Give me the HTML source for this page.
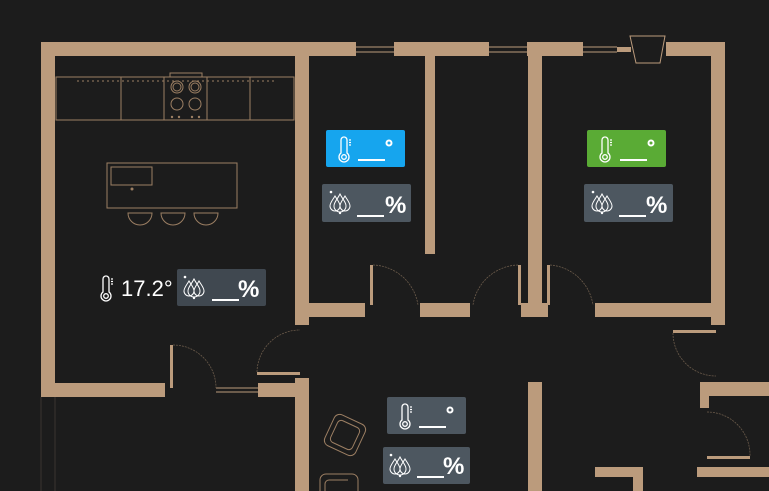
<!DOCTYPE html>
<html><head><meta charset="utf-8"><style>
html,body{margin:0;padding:0;background:#1c1c1c;width:769px;height:491px;overflow:hidden}
svg{display:block}
text{font-family:"Liberation Sans",sans-serif;fill:#fff}
</style></head><body>
<svg width="769" height="491" viewBox="0 0 769 491" xmlns="http://www.w3.org/2000/svg">
<defs>
<symbol id="th" viewBox="0 0 14 26" overflow="visible">
<g fill="none" stroke="#fff" stroke-width="1.3">
<path d="M4 16 V3 a3 3 0 0 1 6 0 V16 a5 5 0 1 1 -6 0 Z"/>
<circle cx="7" cy="20" r="2.3"/>
<path d="M12 3h2M12 5.5h2M12 8h2"/>
</g></symbol>
<symbol id="hu" viewBox="0 0 26 24" overflow="visible">
<g fill="none" stroke="#fff" stroke-width="1">
<path d="M7 6 C4 11 2 13 2 16 a5 5 0 0 0 10 0 C12 13 10 11 7 6Z"/>
<path d="M12 4 C9 10 6 12 6 16 a6 6 0 0 0 12 0 C18 12 15 10 12 4Z"/>
<path d="M17 6 C14 11 12 13 12 16 a5 5 0 0 0 10 0 C22 13 20 11 17 6Z"/>
</g>
<circle cx="3" cy="2" r="1.3" fill="#fff"/><circle cx="12" cy="23" r="1.2" fill="#fff"/>
</symbol>
</defs>
<g fill="#bb9b7c">
<!-- top-left kitchen -->
<rect x="41" y="42" width="315" height="14"/>
<rect x="41" y="42" width="14" height="355"/>
<rect x="41" y="383" width="124" height="14"/>
<rect x="295" y="42" width="14" height="283"/>
<rect x="295" y="303" width="70" height="14"/>
<rect x="394" y="42" width="95" height="14"/>
<rect x="425" y="56" width="10" height="198"/>
<rect x="420" y="303" width="50" height="14"/>
<rect x="527" y="42" width="56" height="14"/>
<rect x="528" y="42" width="14" height="275"/>
<rect x="521" y="303" width="27" height="14"/>
<rect x="617" y="47" width="14" height="5"/>
<rect x="666" y="42" width="59" height="14"/>
<rect x="711" y="42" width="14" height="283"/>
<rect x="595" y="303" width="130" height="14"/>
<!-- door leaves -->
<rect x="370" y="265" width="3" height="40"/>
<rect x="518" y="265" width="3" height="40"/>
<rect x="547" y="265" width="3" height="40"/>
<rect x="170" y="345" width="3" height="43"/>
<rect x="257" y="372" width="43" height="3"/>
<rect x="673" y="330" width="43" height="3"/>
<rect x="707" y="456" width="43" height="3"/>
<!-- lower -->
<rect x="258" y="383" width="51" height="14"/>
<rect x="295" y="378" width="14" height="113"/>
<rect x="528" y="382" width="14" height="109"/>
<rect x="700" y="382" width="69" height="14"/>
<rect x="700" y="382" width="9" height="26"/>
<rect x="697" y="467" width="72" height="10"/>
<rect x="595" y="467" width="48" height="10"/>
<rect x="633" y="467" width="10" height="24"/>
</g>
<!-- windows -->
<g stroke="#bb9b7c" stroke-width="1" fill="none">
<path d="M356 47H394M356 52H394M489 47H527M489 52H527M583 47H617M583 52H617M216 388H258M216 392H258"/>
<path d="M630 36H665L660 63H636Z"/>
</g>
<!-- door arcs -->
<g stroke="#6a5a4a" stroke-width="0.8" fill="none" stroke-dasharray="2 1">
<path d="M373 265 A47 47 0 0 1 418 305"/>
<path d="M518 265 A47 47 0 0 0 473 305"/>
<path d="M550 265 A47 47 0 0 1 593 305"/>
<path d="M173 345 A43 43 0 0 1 216 388"/>
<path d="M257 372 A43 43 0 0 1 300 330"/>
<path d="M673 333 A43 43 0 0 0 716 376"/>
<path d="M707 412 A43 43 0 0 1 750 456"/>
</g>
<g stroke="#3a3430" stroke-width="1"><path d="M41 397V491M55 397V491"/></g>
<!-- kitchen furniture -->
<g stroke="#9c7f63" stroke-width="1" fill="none">
<rect x="56" y="77" width="238" height="43"/>
<path d="M121 77V120M164 77V120M207 77V120M250 77V120"/>
<path d="M170 77V73H202V77"/>
<path d="M77 81H276" stroke-dasharray="2 3"/>
<circle cx="177" cy="87" r="6"/><circle cx="177" cy="87" r="4"/>
<circle cx="195" cy="87" r="6"/><circle cx="195" cy="87" r="4"/>
<circle cx="177" cy="104" r="6"/><circle cx="195" cy="104" r="6"/>
<rect x="107" y="163" width="130" height="45"/>
<rect x="111" y="167" width="41" height="18"/>
<path d="M128 213H152A12 12 0 0 1 128 213Z"/>
<path d="M161 213H185A12 12 0 0 1 161 213Z"/>
<path d="M194 213H218A12 12 0 0 1 194 213Z"/>
<rect x="328" y="418" width="34" height="34" rx="6" transform="rotate(25 345 435)"/>
<rect x="333" y="423" width="24" height="24" rx="4" transform="rotate(25 345 435)"/>
<path d="M320 491V480a6 6 0 0 1 6 -6H352a6 6 0 0 1 6 6V491"/>
<path d="M325 491V484a4 4 0 0 1 4 -4H348"/>
</g>
<g fill="#9c7f63"><circle cx="132" cy="189" r="1.5"/><circle cx="172" cy="117" r="1.2"/><circle cx="179" cy="117" r="1.2"/><circle cx="192" cy="117" r="1.2"/><circle cx="199" cy="117" r="1.2"/></g>
<!-- sensor boxes -->
<rect x="326" y="130" width="79" height="37" rx="2" fill="#16a5ee"/>
<rect x="587" y="130" width="79" height="37" rx="2" fill="#5aab35"/>
<rect x="387" y="397" width="79" height="37" rx="2" fill="#4d5760"/>
<rect x="322" y="184" width="89" height="38" rx="2" fill="#4d5760"/>
<rect x="584" y="184" width="89" height="38" rx="2" fill="#4d5760"/>
<rect x="177" y="269" width="89" height="37" rx="2" fill="#404850"/>
<rect x="383" y="447" width="87" height="37" rx="2" fill="#4d5760"/>
<!-- temp -->
<g>
<use href="#th" x="337" y="137" width="14" height="26"/>
<use href="#th" x="598" y="137" width="14" height="26"/>
<use href="#th" x="398" y="404" width="14" height="26"/>
<use href="#th" x="99" y="276" width="14" height="26"/>
</g>
<g fill="#fff">
<rect x="358" y="159" width="27" height="2"/><rect x="620" y="159" width="27" height="2"/><rect x="419" y="426" width="27" height="2"/>
<rect x="357" y="215" width="27" height="2"/><rect x="619" y="215" width="27" height="2"/><rect x="212" y="299" width="27" height="2"/><rect x="417" y="476" width="27" height="2"/>
</g>
<g fill="none" stroke="#fff" stroke-width="2">
<circle cx="389" cy="143" r="2.5"/><circle cx="651" cy="143" r="2.5"/><circle cx="450" cy="410" r="2.5"/>
</g>
<g>
<use href="#hu" x="328" y="190" width="26" height="24"/>
<use href="#hu" x="590" y="190" width="26" height="24"/>
<use href="#hu" x="182" y="275" width="26" height="24"/>
<use href="#hu" x="388" y="453" width="26" height="24"/>
</g>
<g font-size="24" font-weight="bold">
<text x="385" y="213">%</text>
<text x="646" y="213">%</text>
<text x="238" y="297">%</text>
<text x="443" y="474">%</text>
</g>
<text x="121" y="296" font-size="22">17.2°</text>
</svg>
</body></html>
